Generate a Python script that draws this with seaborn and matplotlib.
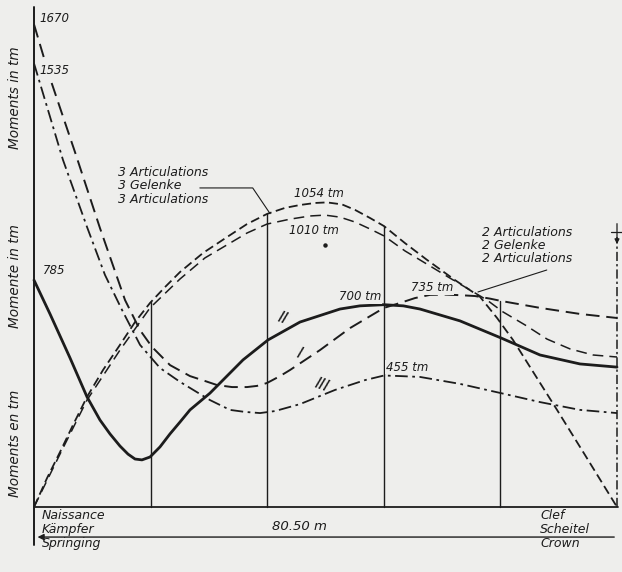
import numpy as np
import pandas as pd
import matplotlib
matplotlib.use("Agg")
import matplotlib.pyplot as plt
import seaborn as sns

# ---------------- data (x in m from springing, moments in tm) ----------------
span = 80.5
sections = [16.1, 32.2, 48.3, 64.4]

# Curve II (solid)
II_x = [0, 2.21, 4.97, 7.32, 9.11, 10.49, 11.87, 12.98, 13.95, 14.91, 16.02, 17.40,
        18.78, 20.16, 21.54, 24.30, 28.86, 32.31, 36.73, 42.25, 45.0, 48.33, 51.0,
        53.30, 58.82, 64.48, 69.87, 75.39, 80.5]
II_y = [785, 668, 516, 381, 301, 253, 211, 183, 166, 163, 173, 208,
        253, 294, 336, 394, 509, 578, 640, 685, 696, 700, 696,
        685, 644, 585, 526, 495, 484]

# Curve I (dashed)
I_x = [0, 2.21, 5.66, 9.11, 12.57, 14.64, 16.29, 18.78, 21.54, 23.61, 25.27, 27.34,
       29.41, 30.79, 32.17, 33.97, 35.35, 39.49, 43.63, 48.33, 50.54, 52.61, 54.68,
       56.75, 58.82, 60.89, 62.97, 64.48, 69.87, 75.39, 80.5]
I_y = [1670, 1484, 1228, 965, 716, 612, 554, 491, 453, 436, 422, 415,
       415, 419, 429, 453, 474, 543, 619, 689, 706, 723, 734,
       735, 733, 730, 721, 713, 689, 668, 654]

# Curve III (dash-dot)
III_x = [0, 4.0, 7.32, 9.80, 12.15, 14.64, 17.40, 20.16, 24.30, 27.06, 29.13, 31.21,
         33.28, 36.73, 39.49, 41.56, 43.63, 45.70, 48.33, 50.54, 53.30, 58.82, 64.48,
         69.87, 75.39, 80.5]
III_y = [1535, 1201, 969, 803, 682, 561, 481, 433, 370, 336, 329, 325,
         332, 356, 384, 405, 422, 439, 455, 453, 450, 426, 394,
         363, 336, 325]

# 3 articulations (dashed, max 1054)
A3_x = [0, 1.80, 3.59, 5.39, 7.32, 9.53, 11.87, 13.95, 16.02, 18.09, 20.16, 23.34,
        26.65, 29.41, 32.17, 34.66, 36.73, 38.80, 40.46, 42.53, 44.33, 46.40, 48.33,
        51.23, 54.27, 58.14, 61.59, 63.94, 66.14, 69.18, 72.22, 76.08, 80.5]
A3_y = [0, 100, 190, 284, 381, 474, 561, 640, 706, 761, 813, 879,
        934, 979, 1014, 1035, 1045, 1052, 1054, 1047, 1028, 1000, 972,
        913, 855, 785, 727, 654, 578, 457, 336, 180, 0]

# 2 articulations (dashed, max 1010)
A2_x = [0, 3.59, 7.32, 11.87, 16.02, 20.16, 23.61, 26.65, 29.41, 32.17, 35.35, 38.11,
        40.18, 42.25, 44.33, 46.40, 48.33, 51.23, 54.68, 57.44, 60.20, 62.55, 64.76,
        67.80, 70.84, 74.01, 77.19, 80.5]
A2_y = [0, 183, 370, 543, 689, 789, 862, 907, 948, 979, 996, 1007,
        1010, 1003, 986, 962, 938, 886, 834, 792, 751, 716, 675,
        630, 581, 547, 526, 519]

value_labels = ["1670", "1535", "785", "1054 tm", "1010 tm", "700 tm", "735 tm", "455 tm"]
ylabels = ["Moments in tm", "Momente in tm", "Moments en tm"]
art3 = ["3 Articulations", "3 Gelenke", "3 Articulations"]
art2 = ["2 Articulations", "2 Gelenke", "2 Articulations"]
left_end = ["Naissance", "Kämpfer", "Springing"]
right_end = ["Clef", "Scheitel", "Crown"]
span_label = "80.50 m"

# ---------------- figure ----------------
sns.set_theme(style="white")
plt.rcParams['font.family'] = ['DejaVu Sans']
bg = "#eeeeec"
ink = "#1c1c1c"

fig = plt.figure(figsize=(6.22, 5.72), dpi=100, facecolor=bg)
ax = fig.add_axes([0, 0, 1, 1])
ax.set_facecolor(bg)
pxm = 583 / span          # px per m
pxt = 0.289               # px per tm
ax.set_xlim(-34 / pxm, (622 - 34) / pxm)
ax.set_ylim(-(572 - 507) / pxt, 507 / pxt)
ax.axis("off")

def curve(x, y, **kw):
    df = pd.DataFrame({"x": x, "y": y})
    sns.lineplot(data=df, x="x", y="y", ax=ax, sort=False, estimator=None,
                 color=ink, legend=False, solid_joinstyle="round",
                 dash_joinstyle="round", **kw)

curve(A3_x, A3_y, lw=1.3, linestyle=(0, (5, 2.5)))
curve(A2_x, A2_y, lw=1.1, linestyle=(0, (7, 4)))
curve(I_x, I_y, lw=1.4, linestyle=(0, (7, 3.5)))
curve(III_x, III_y, lw=1.3, linestyle=(0, (7, 2.5, 1.5, 2.5)))
curve(II_x, II_y, lw=2.0, linestyle="-")

# section verticals up to envelope
for xs in sections:
    top = max(np.interp(xs, c[0], c[1]) for c in
              [(A3_x, A3_y), (A2_x, A2_y), (I_x, I_y), (II_x, II_y), (III_x, III_y)])
    ax.plot([xs, xs], [0, top], color=ink, lw=1.0)

# axes frame lines
ax.plot([0, 0], [-131, 1730], color=ink, lw=1.4)
ax.plot([0, span + 0.2], [0, 0], color=ink, lw=1.3)
ax.plot([span, span], [0, 934], color=ink, lw=1.1, linestyle=(0, (6, 2, 1.5, 2)))
ax.annotate("", xy=(span, 900), xytext=(span, 990),
            arrowprops=dict(arrowstyle="-|>", color=ink, lw=0.9, mutation_scale=7))
ax.plot([span - 0.8, span + 0.8], [950, 950], color=ink, lw=0.9)

# dimension line
ax.annotate("", xy=(0.1, -104), xytext=(span, -104),
            arrowprops=dict(arrowstyle="-|>", color=ink, lw=1.0, mutation_scale=9))
ax.text(36.7, -69, span_label, ha="center", va="center", fontsize=9.5,
        style="italic", color=ink)

tk = dict(fontsize=9, style="italic", color=ink)
# end labels
for i, t in enumerate(left_end):
    ax.text(1.1, -31 - 48 * i, t, ha="left", va="center", **tk)
for i, t in enumerate(right_end):
    ax.text(69.9, -31 - 48 * i, t, ha="left", va="center", **tk)

# y labels
for t, yc in zip(ylabels, [1415, 800, 221]):
    ax.text(-2.6, yc, t, rotation=90, ha="center", va="center",
            fontsize=9.8, style="italic", color=ink)

# value labels
vpos = [(0.8, 1692, "left"), (0.8, 1512, "left"), (1.2, 820, "left"),
        (39.35, 1086, "center"), (38.66, 958, "center"), (45.0, 727, "center"),
        (54.96, 758, "center"), (51.5, 484, "center")]
for t, (x, y, ha) in zip(value_labels, vpos):
    ax.text(x, y, t, ha=ha, va="center", fontsize=8.5, style="italic", color=ink,
            bbox=dict(boxstyle="square,pad=0.05", fc=bg, ec="none"), zorder=5)
ax.plot([40.18], [906], marker="o", ms=2.2, color=ink)

# curve numerals
num = dict(fontsize=11.5, style="italic", color=ink, ha="center", va="center")
ax.text(34.3, 652, "II", rotation=-20, **num)
ax.text(36.6, 530, "I", rotation=-20, **num)
ax.text(39.7, 421, "III", rotation=-20, **num)

# articulation notes
for i, t in enumerate(art3):
    ax.text(11.6, 1159 - 48 * i, t, ha="left", va="center", **tk)
ax.plot([22.9, 30.2, 32.6], [1104, 1104, 1015], color=ink, lw=0.8)
for i, t in enumerate(art2):
    ax.text(61.9, 951 - 46 * i, t, ha="left", va="center", **tk)
ax.plot([70.8, 61.3], [820, 744], color=ink, lw=0.8)

fig.savefig("out.png", dpi=100, facecolor=bg)
